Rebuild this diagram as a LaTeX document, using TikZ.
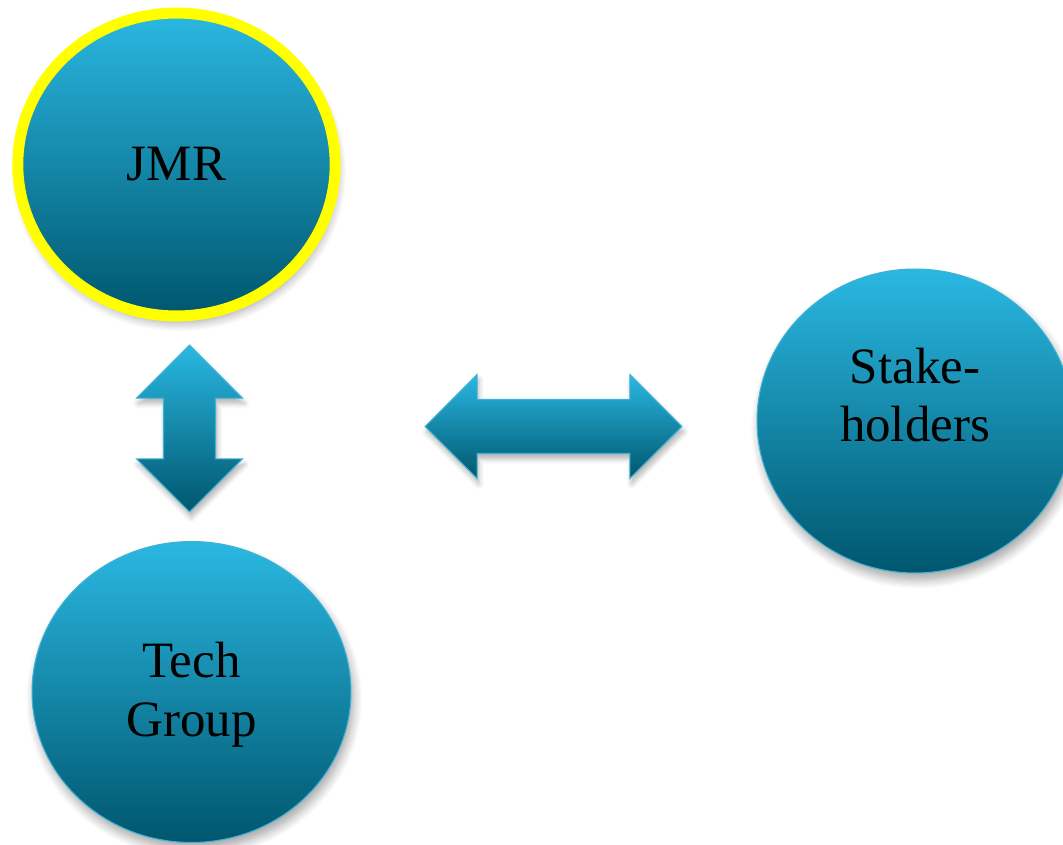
\documentclass[tikz,border=0pt]{standalone}
\usepackage{fontspec}
\setmainfont{Liberation Serif}
\usetikzlibrary{positioning}
\usetikzlibrary{shapes.geometric}
\usetikzlibrary{shapes.arrows}
\usetikzlibrary{shadows.blur}
\definecolor{bubbletop}{RGB}{42,184,226}
\definecolor{bubblebottom}{RGB}{0,86,110}
\definecolor{bubbleline}{RGB}{62,178,212}
\definecolor{ringyellow}{RGB}{255,255,0}

\begin{document}
\begin{tikzpicture}[
  x=0.02cm,y=-0.02cm,
  bubble/.style={ellipse,draw=bubbleline,line width=0.6pt,
    top color=bubbletop,bottom color=bubblebottom,
    blur shadow={shadow xshift=1.5pt,shadow yshift=-4pt,shadow blur radius=5pt,shadow blur steps=8,shadow opacity=35},
    inner sep=0pt},
  bubbletext/.style={font=\fontsize{29}{33.5}\selectfont,align=center,inner sep=0pt},
  twoway/.style={double arrow,draw=bubbleline,line width=0.6pt,
    top color=bubbletop,bottom color=bubblebottom,
    blur shadow={shadow xshift=1pt,shadow yshift=-3pt,shadow blur radius=3pt,shadow blur steps=6,shadow opacity=30}}
  ]
  \useasboundingbox (0,0) rectangle (1063,845);
  \node (jmr)   [bubble,draw=ringyellow,line width=0.22cm,
                 minimum width=6.35cm,minimum height=6.06cm] at (176.5,164.5) {};
  \node (jmrtext)   [bubbletext] at (jmr.center) {JMR};
  \node (tech)  [bubble,minimum width=6.38cm,minimum height=6.02cm] at (191.5,692) {};
  \node (techtext)  [bubbletext] at ([yshift=-0.06cm]tech.center) {Tech\\Group};
  \node (stake) [bubble,minimum width=6.32cm,minimum height=6.08cm] at (915,421) {};
  \node (staketext) [bubbletext] at ([yshift=0.52cm]stake.center) {Stake-\\holders};
  \node (updown)    [twoway,shape border rotate=90,inner sep=0.51cm,double arrow head extend=0.54cm,
                     minimum height=3.34cm,minimum width=2.1cm] at (189.5,428.5) {};
  \node (leftright) [twoway,inner sep=0.53cm,double arrow head extend=0.5cm,
                     minimum height=5.14cm,minimum width=2.06cm] at (553.5,426.5) {};
\end{tikzpicture}
\end{document}
